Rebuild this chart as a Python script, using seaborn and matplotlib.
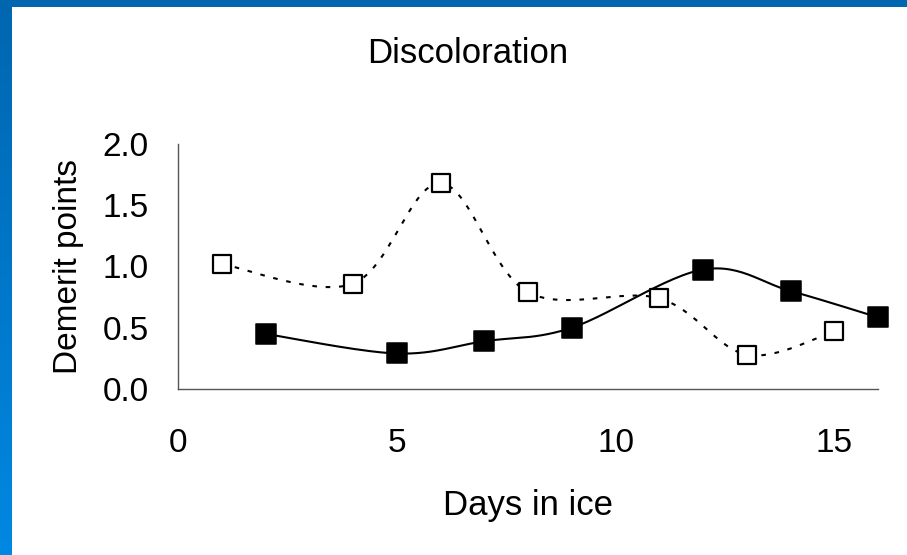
import numpy as np
import matplotlib
matplotlib.use('Agg')
import matplotlib.pyplot as plt
import seaborn as sns

sns.set_style('white')
plt.rcParams['font.family'] = ['Liberation Sans', 'DejaVu Sans']
plt.rcParams['text.color'] = 'black'
plt.rcParams['xtick.color'] = 'black'
plt.rcParams['ytick.color'] = 'black'

# data
days_filled = [2, 5, 7, 9, 12, 14, 16]
points_filled = [0.45, 0.29, 0.39, 0.50, 0.975, 0.80, 0.585]
days_open = [1, 4, 6, 8, 11, 13, 15]
points_open = [1.02, 0.86, 1.68, 0.79, 0.74, 0.28, 0.47]
x_ticks = [0, 5, 10, 15]
y_ticks = [0.0, 0.5, 1.0, 1.5, 2.0]


def smooth(xs, ys, n=30):
    # Catmull-Rom style curve through the points (like a spreadsheet "smoothed line")
    p = np.column_stack([xs, ys]).astype(float)
    p = np.vstack([p[0], p, p[-1]])
    out = []
    t = np.linspace(0, 1, n)[:, None]
    for i in range(1, len(p) - 2):
        p0, p1, p2, p3 = p[i - 1], p[i], p[i + 1], p[i + 2]
        c1 = p1 + (p2 - p0) / 6
        c2 = p2 - (p3 - p1) / 6
        seg = ((1 - t) ** 3) * p1 + 3 * ((1 - t) ** 2) * t * c1 + 3 * (1 - t) * t ** 2 * c2 + t ** 3 * p2
        out.append(seg)
    out = np.vstack(out)
    return out[:, 0], out[:, 1]


W, H = 907, 555
fig = plt.figure(figsize=(9.07, 5.55), dpi=100)

# blue frame (top band, gradient left band)
band = fig.add_axes([0, 1 - 7 / H, 1, 7 / H])
band.set_axis_off()
band.add_patch(plt.Rectangle((0, 0), 1, 1, color='#0066B0', transform=band.transAxes))
side = fig.add_axes([0, 0, 12 / W, 1])
grad = np.linspace(0, 1, 256)[:, None]
cmap = matplotlib.colors.LinearSegmentedColormap.from_list('b', ['#0066B0', '#0088E2'])
side.imshow(grad, aspect='auto', cmap=cmap, extent=[0, 1, 1, 0])
side.set_axis_off()

ax = fig.add_axes([178 / W, 166 / H, 700 / W, 245 / H])

sx, sy = smooth(days_filled, points_filled)
ax.plot(sx, sy, color='black', lw=1.5, zorder=2, clip_on=False)
ox, oy = smooth(days_open, points_open)
ax.plot(ox, oy, color='black', lw=1.5, ls=(0, (2.2, 4.2)), zorder=2, clip_on=False)

sns.scatterplot(x=days_filled, y=points_filled, marker='s', s=190, color='black',
                edgecolor='black', ax=ax, zorder=3, clip_on=False)
sns.scatterplot(x=days_open, y=points_open, marker='s', s=150, facecolor='white',
                edgecolor='black', linewidth=1.6, ax=ax, zorder=3, clip_on=False)

ax.set_xlim(0, 16)
ax.set_ylim(0, 2.0)
ax.set_xticks(x_ticks)
ax.set_yticks(y_ticks)
ax.set_yticklabels([f'{v:.1f}' for v in y_ticks])
ax.spines['top'].set_visible(False)
ax.spines['right'].set_visible(False)
for s in ['left', 'bottom']:
    ax.spines[s].set_color('#555555')
    ax.spines[s].set_linewidth(1.0)
ax.tick_params(axis='both', which='both', direction='out', length=8, width=1.0,
               color='#555555', labelsize=24, labelcolor='black')
ax.tick_params(axis='y', pad=13)
ax.tick_params(axis='x', pad=20)
ax.set_xlabel('')
ax.set_ylabel('')

fig.text(528 / W, 1 - 515 / H, 'Days in ice', fontsize=25, ha='center', va='baseline')
fig.text(68 / W, 1 - 267 / H, 'Demerit points', fontsize=24, ha='center', va='center',
         rotation=90)
fig.text(468 / W, 1 - 63 / H, 'Discoloration', fontsize=25, ha='center', va='baseline')

fig.savefig('out.png', dpi=100, facecolor='white')
